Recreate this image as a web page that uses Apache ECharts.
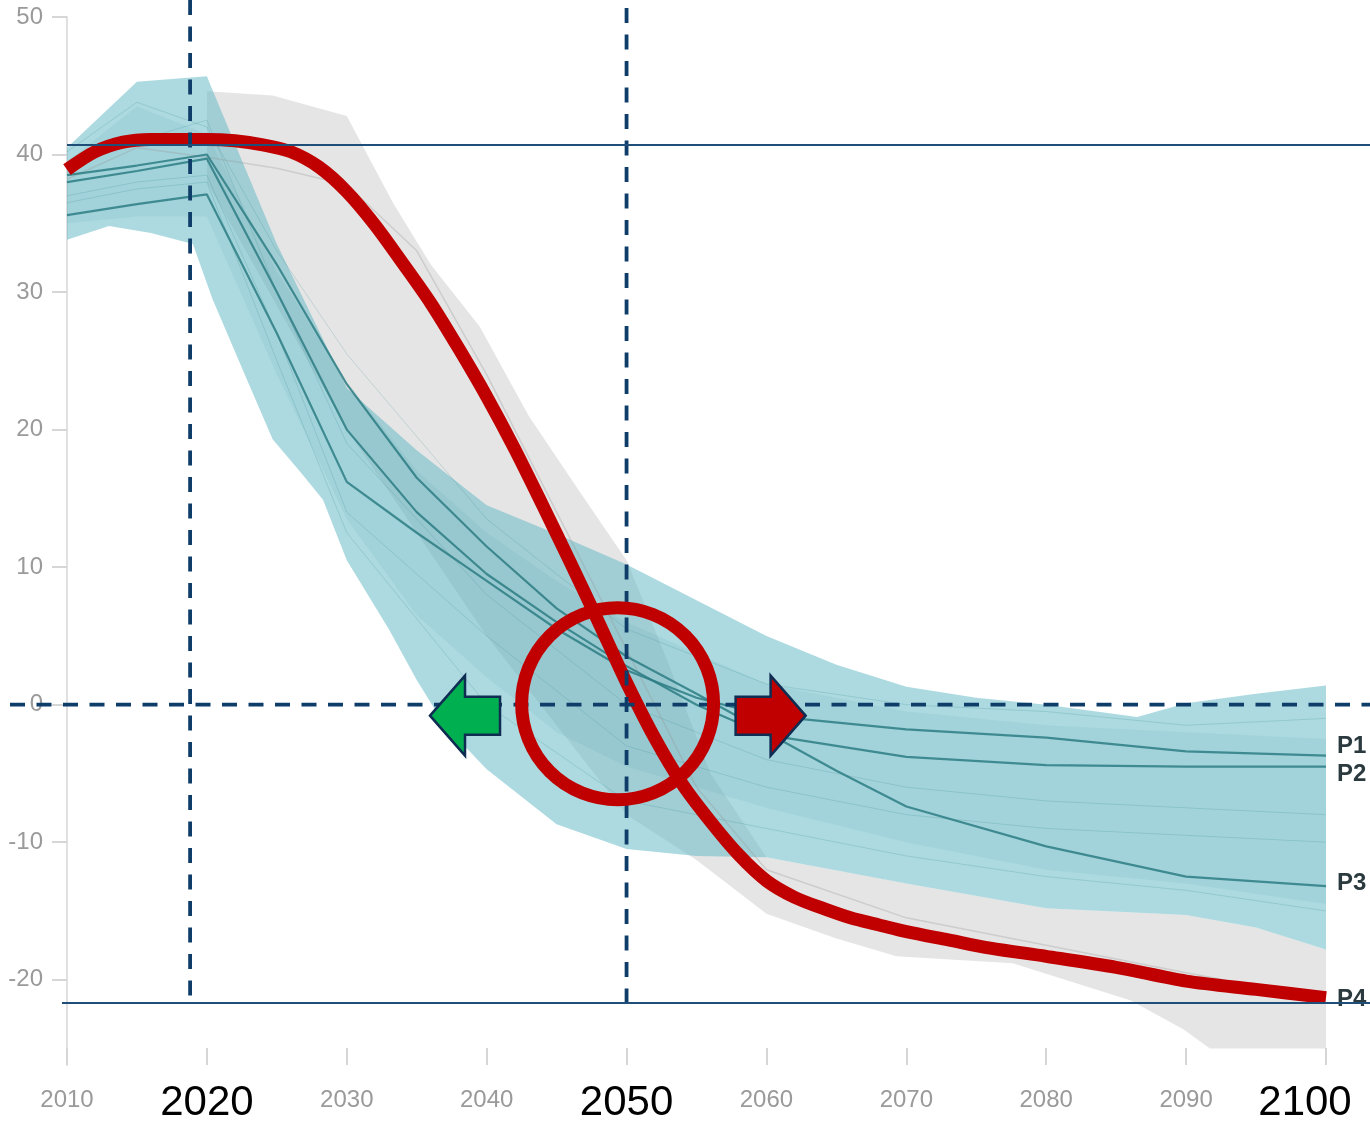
<!DOCTYPE html>
<html><head><meta charset="utf-8">
<script src="https://cdn.jsdelivr.net/npm/echarts@6/dist/echarts.min.js"></script>
<style>html,body{margin:0;padding:0;background:#fff}#c{width:1370px;height:1124px}</style>
</head><body><div id="c"></div>
<script>
// ---------- data ----------
const bigYears = [2020, 2050, 2100];
const yTickValues = [-20, -10, 0, 10, 20, 30, 40, 50];

const tealUpper = [[2010,40.5],[2015,45.3],[2020,45.7],[2020.4,44.7],[2025,33.5],[2030,23],[2035,18.5],[2040,14.5],[2045,12.4],[2050,10.2],[2055,7.6],[2060,5],[2065,2.9],[2070,1.3],[2075,0.5],[2080,0],[2086.5,-0.9],[2090,0.1],[2095,0.8],[2100,1.4]];
const tealLower = [[2010,33.8],[2013,34.8],[2016,34.3],[2019,33.5],[2020.4,29.5],[2022.5,24.5],[2024.7,19.3],[2026.7,16.9],[2028.3,14.9],[2030,10.5],[2033,5.5],[2035,1.8],[2037,-1.5],[2040,-4.7],[2045,-8.7],[2050,-10.5],[2055,-11],[2060,-11.1],[2070,-13],[2080,-14.8],[2090,-15.3],[2095,-16.2],[2100,-17.8]];

const tealInnerUpper = [[2010,39.5],[2015,43.5],[2020,41.5],[2025,31.5],[2030,23.5],[2035,17],[2040,12.5],[2045,9],[2050,6],[2060,1.5],[2070,-0.5],[2080,-1.5],[2090,-2],[2100,-2.5]];
const tealInnerLower = [[2010,35],[2015,35.5],[2020,35.5],[2025,24],[2030,13.5],[2035,6.5],[2040,2],[2045,-2],[2050,-4.5],[2060,-7.5],[2070,-10],[2080,-12],[2090,-13],[2100,-14.5]];

const grayUpper = [[2020,44.6],[2024.7,44.3],[2030,42.8],[2033.3,36.5],[2036,32],[2039.5,27.5],[2043,21],[2046.7,15.4],[2050,10.5],[2053,3],[2056,-5],[2060,-11.1],[2070,-13],[2080,-14.8],[2090,-15.3],[2095,-16.2],[2100,-17.8]];
const grayLower = [[2020,38],[2030,20],[2040,5],[2050,-8],[2055,-11.3],[2060,-15.2],[2065,-17],[2069.3,-18.3],[2077.6,-18.8],[2086,-21.5],[2089.8,-23.6],[2091.7,-25],[2100,-25]];

const p1 = [[2010,35.6],[2015,36.4],[2020,37.1],[2025,27],[2030,16.2],[2035,12.5],[2040,9],[2045,5.5],[2050,2.5],[2055,0.5],[2060,-0.8],[2070,-1.8],[2080,-2.4],[2090,-3.4],[2100,-3.7]];
const p2 = [[2010,38.0],[2015,38.8],[2020,39.7],[2025,30],[2030,20],[2035,14],[2040,9.5],[2045,6],[2050,2.8],[2055,0],[2060,-2.2],[2070,-3.8],[2080,-4.4],[2090,-4.5],[2100,-4.5]];
const p3 = [[2010,38.5],[2015,39.2],[2020,40.0],[2025,32],[2030,23.3],[2035,16.5],[2040,11.5],[2045,7],[2050,3.5],[2055,0.8],[2060,-2],[2065,-4.8],[2070,-7.4],[2080,-10.3],[2090,-12.5],[2100,-13.2]];
const p4 = [[2010,38.2],[2015,40.5],[2020,39.8],[2025,39],[2030,37.8],[2035,33],[2040,24],[2045,14],[2050,4],[2055,-6],[2060,-12],[2070,-15.5],[2080,-17.5],[2090,-19.5],[2100,-21.4]];

const faint1 = [[2010,40.2],[2015,43.8],[2020,42],[2025,33],[2030,25.5],[2040,13.5],[2050,5.5],[2060,1.5],[2070,0],[2080,-0.5],[2090,-1.5],[2100,-1]];
const faint2 = [[2010,37],[2015,38],[2020,38.5],[2025,27],[2030,14],[2040,5],[2050,-3],[2060,-6],[2070,-8],[2080,-9],[2090,-9.5],[2100,-10]];
const faint3 = [[2010,36.5],[2015,37.5],[2020,38],[2025,25],[2030,12.5],[2040,0],[2050,-7],[2060,-9],[2070,-11],[2080,-12.5],[2090,-13.5],[2100,-15]];
const faint4 = [[2010,39],[2015,41],[2020,42.5],[2025,30],[2030,19],[2040,8],[2050,0],[2060,-4],[2070,-6],[2080,-7],[2090,-7.5],[2100,-8]];

const redCurve = [[2010,38.9],[2012,40.2],[2014,40.9],[2016,41.1],[2018,41.1],[2020,41.1],[2022,41.0],[2024,40.7],[2026,40.2],[2028,39.1],[2030,37.3],[2032,34.9],[2034,32.1],[2036,29.2],[2038,25.9],[2040,22.4],[2042,18.6],[2044,14.5],[2046,10.3],[2048,6.0],[2050,1.6],[2052,-2.4],[2054,-5.8],[2056,-8.5],[2058,-10.9],[2060,-12.8],[2062,-14.0],[2064,-14.8],[2066,-15.5],[2068,-16.0],[2070,-16.5],[2073,-17.1],[2076,-17.7],[2080,-18.3],[2085,-19.1],[2090,-20.1],[2095,-20.7],[2100,-21.3]];

const dashedYears = [2018.8, 2050];       // vertical dashed reference lines
const dashedValue = 0;                    // horizontal dashed reference line
const solidValues = [40.7, -21.7];        // horizontal solid reference lines
const circleCenter = [2049.36, 0.07];
const circleRadiusYears = 6.86;
const arrowTips = [[2035.95, -0.8], [2062.8, -0.8]];

// ---------- chart ----------
const chart = echarts.init(document.getElementById('c'));
const SANS = 'Liberation Sans, Arial, sans-serif';

function band(upper, lower, fill, z) {
  return {
    type: 'custom', silent: true, z: z, clip: true,
    data: [[2050, 0]],
    renderItem: function (params, api) {
      const pts = upper.map(p => api.coord(p)).concat(lower.slice().reverse().map(p => api.coord(p)));
      return { type: 'polygon', shape: { points: pts }, style: { fill: fill } };
    }
  };
}
function line(data, color, width, z, extra) {
  return Object.assign({
    type: 'line', data: data, symbol: 'none', silent: true, z: z,
    lineStyle: { color: color, width: width }
  }, extra || {});
}
function pLabel(text, off) {
  return { endLabel: { show: true, formatter: text, color: '#2b3a3f', fontWeight: 'bold', fontSize: 24, fontFamily: SANS, distance: 11, offset: off } };
}

const option = {
  animation: false,
  backgroundColor: '#fff',
  grid: { left: 67, right: 44, top: 17, bottom: 59, containLabel: false, outerBoundsMode: 'none' },
  xAxis: {
    type: 'value', min: 2010, max: 2100, interval: 10,
    splitLine: { show: false },
    axisLine: { show: false, onZero: false },
    axisTick: { show: true, inside: true, length: 17, lineStyle: { color: '#d6d6d6', width: 2 } },
    axisLabel: {
      margin: 12,
      formatter: function (v) {
        if (v === 2100) return '{bigR|' + v + '}';
        return bigYears.indexOf(v) >= 0 ? '{big|' + v + '}' : '{small|' + v + '}';
      },
      rich: {
        big: { fontSize: 42, color: '#000', fontFamily: SANS, lineHeight: 52 },
        bigR: { fontSize: 42, color: '#000', fontFamily: SANS, lineHeight: 52, padding: [0, 42, 0, 0] },
        small: { fontSize: 24, color: '#9a9a9a', fontFamily: SANS, lineHeight: 46 }
      }
    }
  },
  yAxis: {
    type: 'value', min: -26.2, max: 50,
    splitLine: { show: false },
    axisLine: { show: true, lineStyle: { color: '#e0e0e0', width: 2 } },
    axisTick: { show: true, length: 15, customValues: yTickValues, lineStyle: { color: '#d6d6d6', width: 2 } },
    axisLabel: { customValues: yTickValues, margin: 24, fontSize: 24, color: '#9a9a9a', fontFamily: SANS }
  },
  series: [
    band(grayUpper, grayLower, 'rgba(190,190,190,0.4)', 1),
    band(tealUpper, tealLower, 'rgba(95,185,195,0.52)', 2),
    band(tealInnerUpper, tealInnerLower, 'rgba(50,140,150,0.08)', 3),
    line(faint1, 'rgba(50,130,140,0.2)', 1, 4),
    line(faint2, 'rgba(50,130,140,0.2)', 1, 4),
    line(faint3, 'rgba(50,130,140,0.2)', 1, 4),
    line(faint4, 'rgba(50,130,140,0.2)', 1, 4),
    line(p4, 'rgba(150,150,150,0.3)', 1.5, 5, pLabel('P4', [0, 0])),
    line(p1, 'rgba(45,125,132,0.85)', 2.2, 6, pLabel('P1', [0, -9])),
    line(p2, 'rgba(45,125,132,0.85)', 2.2, 6, pLabel('P2', [0, 8])),
    line(p3, 'rgba(45,125,132,0.85)', 2.2, 6, pLabel('P3', [0, -3])),
    line(redCurve, '#C00000', 13, 10, { smooth: 0.3, lineStyle: { color: '#C00000', width: 13, cap: 'butt' } })
  ]
};
chart.setOption(option);

// ---------- overlay reference marks (positioned via the chart's own scales) ----------
function px(x, y) { return chart.convertToPixel({ xAxisIndex: 0, yAxisIndex: 0 }, [x, y]); }
const W = chart.getWidth();
const NAVY = '#0f3d69';
const dashStyle = { stroke: NAVY, lineWidth: 3.8, lineDash: [15, 11.5] };
const g = [];
const yLow = px(2010, solidValues[1])[1];
g.push({ type: 'line', z: 100, shape: { x1: px(dashedYears[0], 0)[0], y1: 0, x2: px(dashedYears[0], 0)[0], y2: yLow }, style: dashStyle });
g.push({ type: 'line', z: 100, shape: { x1: px(dashedYears[1], 0)[0], y1: 8, x2: px(dashedYears[1], 0)[0], y2: yLow + 7 }, style: dashStyle });
const y0 = px(2010, dashedValue)[1];
g.push({ type: 'line', z: 100, shape: { x1: 10, y1: y0, x2: W, y2: y0 }, style: dashStyle });
const ys1 = px(2010, solidValues[0])[1];
g.push({ type: 'line', z: 100, shape: { x1: px(2010, 0)[0], y1: ys1, x2: W, y2: ys1 }, style: { stroke: '#1f4e79', lineWidth: 2 } });
g.push({ type: 'line', z: 100, shape: { x1: px(2010, 0)[0] - 5, y1: yLow, x2: W, y2: yLow }, style: { stroke: '#1f4e79', lineWidth: 2 } });
const cc = px(circleCenter[0], circleCenter[1]);
const cr = px(circleCenter[0] + circleRadiusYears, 0)[0] - cc[0];
g.push({ type: 'circle', z: 110, shape: { cx: cc[0], cy: cc[1], r: cr }, style: { fill: 'none', stroke: '#C00000', lineWidth: 13 } });
function arrow(tip, dir, fill) {
  const t = px(tip[0], tip[1]);
  const L = 70, H = 35, bh = 19, hh = 40;
  const pts = [
    [t[0], t[1]],
    [t[0] - dir * H, t[1] - hh],
    [t[0] - dir * H, t[1] - bh],
    [t[0] - dir * L, t[1] - bh],
    [t[0] - dir * L, t[1] + bh],
    [t[0] - dir * H, t[1] + bh],
    [t[0] - dir * H, t[1] + hh]
  ];
  return { type: 'polygon', z: 120, shape: { points: pts }, style: { fill: fill, stroke: '#0f2d52', lineWidth: 2.5, lineJoin: 'miter' } };
}
g.push(arrow(arrowTips[0], -1, '#00B050'));
g.push(arrow(arrowTips[1], 1, '#C00000'));
chart.setOption({ graphic: { elements: g } });
</script>
</body></html>
